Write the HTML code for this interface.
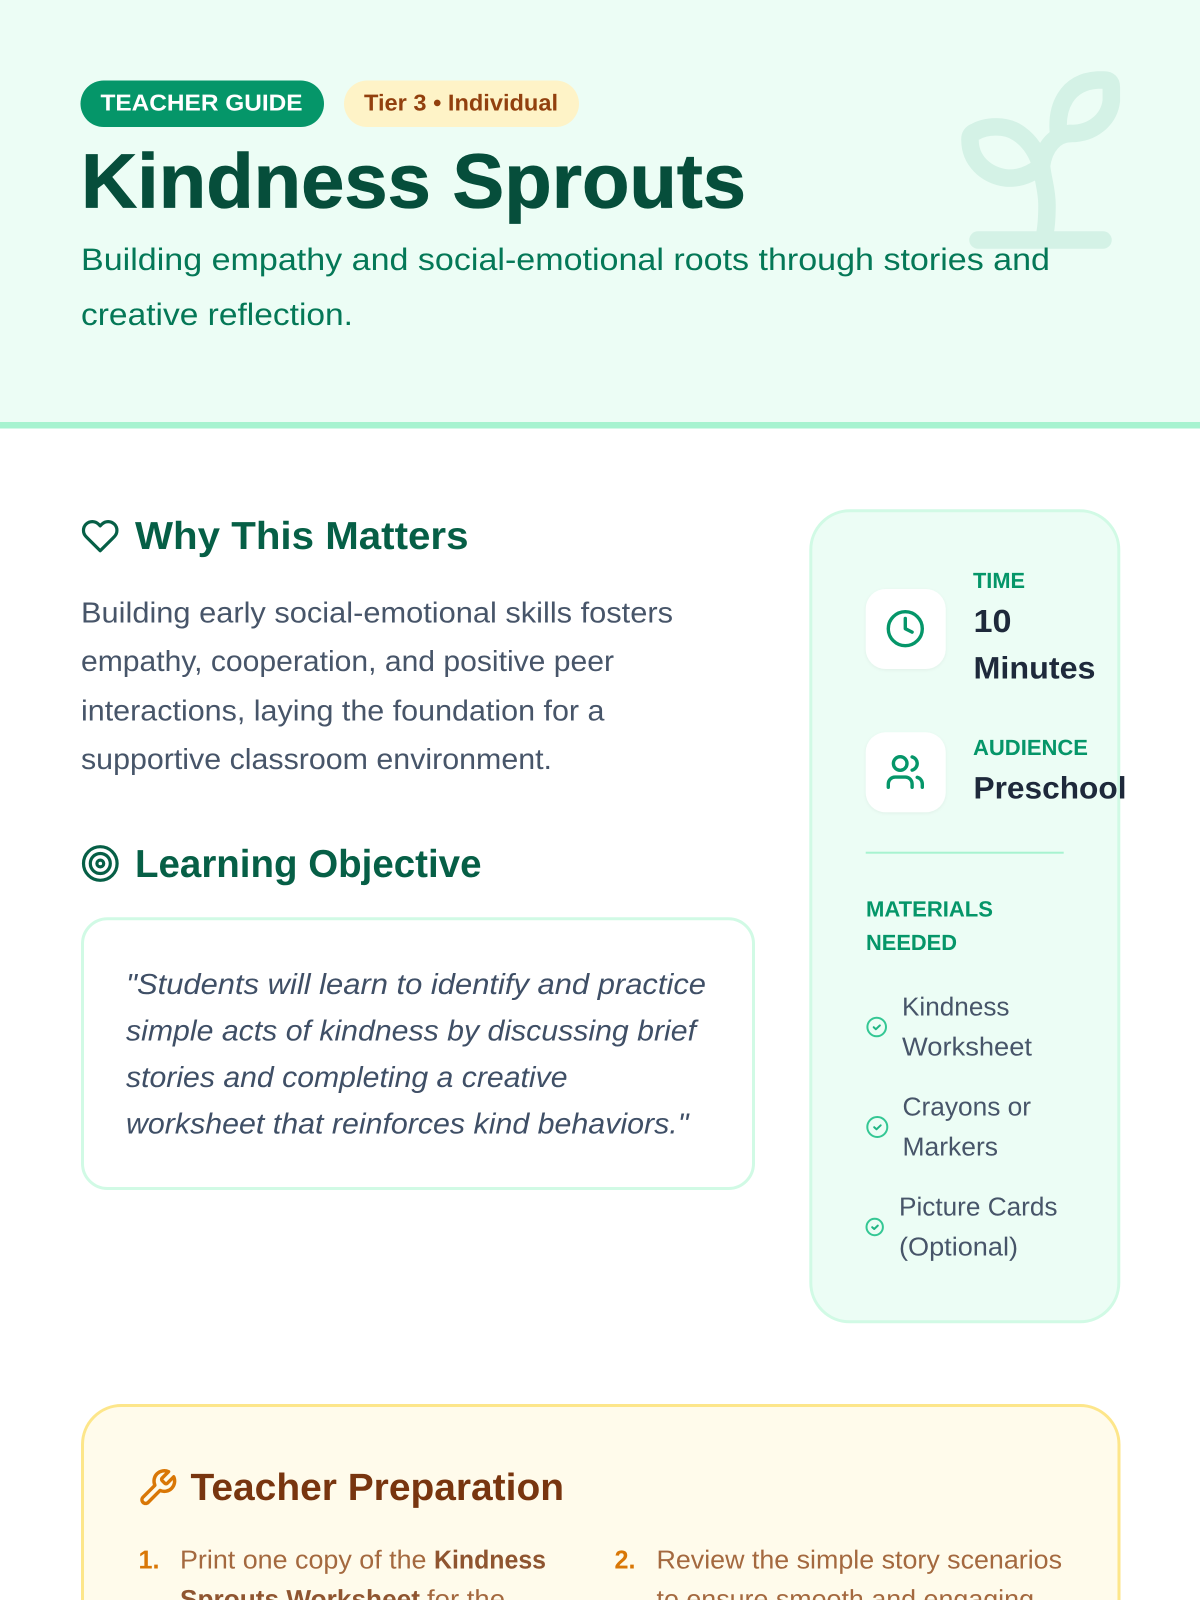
<!DOCTYPE html>
<html lang="en"><head><meta charset="utf-8"><title>Kindness Sprouts</title>
<style>
html,body{margin:0;padding:0;background:#fff;width:1200px;height:1600px;overflow:hidden}
svg{display:block;position:absolute;left:0;top:0}
text{font-family:"Liberation Sans",sans-serif;text-rendering:geometricPrecision;white-space:pre}
.b{font-weight:700}
.ico{fill:none;stroke-linecap:round;stroke-linejoin:round}
</style></head><body>
<svg width="1200" height="1600" viewBox="0 0 1200 1600" xmlns="http://www.w3.org/2000/svg">
<defs>
<filter id="s" x="-20%" y="-20%" width="140%" height="140%"><feDropShadow dx="0" dy="1" stdDeviation="1.5" flood-color="#000" flood-opacity=".05"/></filter>
</defs>
<!-- Header -->
<rect x="0" y="0" width="1200" height="422" fill="#ecfdf5"/>
<rect x="0" y="422" width="1200" height="6.5" fill="#a7f3d0"/>
<g class="ico" stroke="#d4f2e6" stroke-width="17.5">
<path d="M978 240H1103"/>
<path d="M1070 133.5C1056 134 1044 146 1041.5 166C1043 180 1047 190 1047 205C1047 220 1046 230 1044 238"/>
<path d="M1058.5 133C1056 108 1066 82 1097.5 80L1104 80Q1111.3 80 1111.3 87L1111.3 101C1109 120 1092 134 1070 133.5"/>
<path d="M970 140Q969.5 134 975 132C985 126 1005 124 1018 133C1030 141 1037 152 1041 166C1030 175 1018 179 1006 178C985 175 970 160 970 140Z"/>
</g>
<rect x="80.5" y="80.5" width="243.5" height="46.5" rx="23.2" fill="#059669"/>
<text class="b" x="100.5" y="110.7" font-size="23" fill="#fff" textLength="202" lengthAdjust="spacingAndGlyphs">TEACHER GUIDE</text>
<rect x="344" y="80.5" width="235" height="46.5" rx="23.2" fill="#fef3c7"/>
<text class="b" x="364" y="110.7" font-size="23" fill="#92400e" textLength="194" lengthAdjust="spacingAndGlyphs">Tier 3 • Individual</text>
<text class="b" x="81" y="207.3" font-size="77" fill="#064e3b" stroke="#064e3b" stroke-width=".8" textLength="665" lengthAdjust="spacingAndGlyphs">Kindness Sprouts</text>
<text x="81" y="270" font-size="31" fill="#047857" textLength="969" lengthAdjust="spacingAndGlyphs">Building empathy and social-emotional roots through stories and</text>
<text x="81" y="325" font-size="31" fill="#047857" textLength="272" lengthAdjust="spacingAndGlyphs">creative reflection.</text>

<!-- Why -->
<g class="ico" stroke="#065f46" stroke-width="2" transform="translate(81 516.8) scale(1.6)"><path d="M20.84 4.61a5.5 5.5 0 0 0-7.78 0L12 5.67l-1.06-1.06a5.5 5.5 0 0 0-7.78 7.78l1.06 1.06L12 21.23l7.78-7.78 1.06-1.06a5.5 5.5 0 0 0 0-7.78z"/></g>
<text class="b" x="135" y="549" font-size="39" fill="#065f46" textLength="333.5" lengthAdjust="spacingAndGlyphs">Why This Matters</text>
<g font-size="29" fill="#475569">
<text x="81" y="622.7" textLength="592" lengthAdjust="spacingAndGlyphs">Building early social-emotional skills fosters</text>
<text x="81" y="671.2" textLength="533" lengthAdjust="spacingAndGlyphs">empathy, cooperation, and positive peer</text>
<text x="81" y="720.7" textLength="523.5" lengthAdjust="spacingAndGlyphs">interactions, laying the foundation for a</text>
<text x="81" y="769" textLength="471" lengthAdjust="spacingAndGlyphs">supportive classroom environment.</text>
</g>

<!-- Objective -->
<g fill="none" stroke="#065f46" stroke-width="3.2">
<circle cx="100.3" cy="863.5" r="16.8"/><circle cx="100.3" cy="863.5" r="10"/><circle cx="100.3" cy="863.5" r="3.4"/>
</g>
<text class="b" x="135" y="877" font-size="39" fill="#065f46" textLength="346.5" lengthAdjust="spacingAndGlyphs">Learning Objective</text>
<rect x="82.5" y="918.8" width="671" height="269.7" rx="25" fill="#fff" stroke="#d1fae5" stroke-width="3"/>
<g font-size="29" font-style="italic" fill="#3f4f66">
<text x="126" y="994" textLength="580" lengthAdjust="spacingAndGlyphs">"Students will learn to identify and practice</text>
<text x="126" y="1040.3" textLength="570" lengthAdjust="spacingAndGlyphs">simple acts of kindness by discussing brief</text>
<text x="126" y="1087" textLength="441.5" lengthAdjust="spacingAndGlyphs">stories and completing a creative</text>
<text x="126" y="1133.7" textLength="562.5" lengthAdjust="spacingAndGlyphs">worksheet that reinforces kind behaviors."</text>
</g>

<!-- Sidebar -->
<rect x="810.8" y="510.8" width="308" height="811" rx="39" fill="#ecfdf5" stroke="#d1fae5" stroke-width="3"/>
<rect x="865.7" y="589" width="80" height="80" rx="20" fill="#fff" filter="url(#s)"/>
<g class="ico" stroke="#059669" stroke-width="2" transform="translate(884.9 608.3) scale(1.7)"><circle cx="12" cy="12" r="10"/><path d="M12 6v6l4 2"/></g>
<text class="b" x="973" y="588" font-size="22" fill="#059669" textLength="52" lengthAdjust="spacingAndGlyphs">TIME</text>
<text class="b" x="973.5" y="632" font-size="32" fill="#1e293b" textLength="38" lengthAdjust="spacingAndGlyphs">10</text>
<text class="b" x="973.5" y="678.5" font-size="31" fill="#1e293b" textLength="122" lengthAdjust="spacingAndGlyphs">Minutes</text>
<rect x="865.7" y="732.3" width="80" height="80" rx="20" fill="#fff" filter="url(#s)"/>
<g class="ico" stroke="#059669" stroke-width="2" transform="translate(884.9 751.6) scale(1.7)"><path d="M16 21v-2a4 4 0 0 0-4-4H6a4 4 0 0 0-4 4v2"/><circle cx="9" cy="7" r="4"/><path d="M22 21v-2a4 4 0 0 0-3-3.87"/><path d="M16 3.13a4 4 0 0 1 0 7.75"/></g>
<text class="b" x="973" y="755" font-size="22" fill="#059669" textLength="115" lengthAdjust="spacingAndGlyphs">AUDIENCE</text>
<text class="b" x="973.5" y="798.3" font-size="31" fill="#1e293b" textLength="153" lengthAdjust="spacingAndGlyphs">Preschool</text>
<rect x="865.7" y="851.7" width="198" height="2" fill="#a7f3d0"/>
<text class="b" x="866" y="916.7" font-size="22" fill="#059669" textLength="127" lengthAdjust="spacingAndGlyphs">MATERIALS</text>
<text class="b" x="866" y="950" font-size="22" fill="#059669" textLength="91" lengthAdjust="spacingAndGlyphs">NEEDED</text>
<g fill="none" stroke="#34c794" stroke-width="2">
<circle cx="876.7" cy="1027" r="9.3"/><circle cx="877.3" cy="1127" r="10"/><circle cx="874.7" cy="1227" r="8.2"/>
</g>
<g class="ico" stroke="#1fb584" stroke-width="2">
<path d="M873.7 1027.2l2.2 2 4-3.8"/><path d="M874.2 1127.2l2.3 2.1 4.2-4"/><path d="M872.2 1227.2l2 1.8 3.6-3.4"/>
</g>
<g font-size="26" fill="#475569">
<text x="902" y="1015.7" textLength="107.5" lengthAdjust="spacingAndGlyphs">Kindness</text>
<text x="902" y="1055.3" textLength="130" lengthAdjust="spacingAndGlyphs">Worksheet</text>
<text x="902.5" y="1115.7" textLength="128.5" lengthAdjust="spacingAndGlyphs">Crayons or</text>
<text x="902.5" y="1155.7" textLength="95.5" lengthAdjust="spacingAndGlyphs">Markers</text>
<text x="899" y="1215.7" textLength="158.5" lengthAdjust="spacingAndGlyphs">Picture Cards</text>
<text x="899" y="1255.7" textLength="119" lengthAdjust="spacingAndGlyphs">(Optional)</text>
</g>

<!-- Teacher Preparation -->
<path d="M82.5 1600V1444.5a39 39 0 0 1 39-39H1080a39 39 0 0 1 39 39V1600" fill="#fffbeb" stroke="#fde68a" stroke-width="3"/>
<g class="ico" stroke="#d97706" stroke-width="2" transform="translate(136.8 1467.3) scale(1.72)"><path d="M14.7 6.3a1 1 0 0 0 0 1.4l1.6 1.6a1 1 0 0 0 1.4 0l3.77-3.77a6 6 0 0 1-7.94 7.94l-6.91 6.91a2.12 2.12 0 0 1-3-3l6.91-6.91a6 6 0 0 1 7.94-7.94l-3.76 3.76z"/></g>
<text class="b" x="190.5" y="1500" font-size="38" fill="#78350f" textLength="373.5" lengthAdjust="spacingAndGlyphs">Teacher Preparation</text>
<text class="b" x="138.5" y="1568.3" font-size="26" fill="#d97706" textLength="21" lengthAdjust="spacingAndGlyphs">1.</text>
<text class="b" x="614.5" y="1568.3" font-size="26" fill="#d97706" textLength="21" lengthAdjust="spacingAndGlyphs">2.</text>
<g font-size="26" fill="#a4693f">
<text x="180" y="1568.3" textLength="246.5" lengthAdjust="spacingAndGlyphs">Print one copy of the</text>
<text class="b" x="434" y="1568.3" fill="#8f5530" textLength="112" lengthAdjust="spacingAndGlyphs">Kindness</text>
<text class="b" x="180" y="1608" fill="#8f5530" textLength="240" lengthAdjust="spacingAndGlyphs">Sprouts Worksheet</text>
<text x="427" y="1608" textLength="78" lengthAdjust="spacingAndGlyphs">for the</text>
<text x="656.5" y="1568.3" textLength="405.5" lengthAdjust="spacingAndGlyphs">Review the simple story scenarios</text>
<text x="656.5" y="1608" textLength="377.5" lengthAdjust="spacingAndGlyphs">to ensure smooth and engaging</text>
</g>
</svg>
</body></html>
